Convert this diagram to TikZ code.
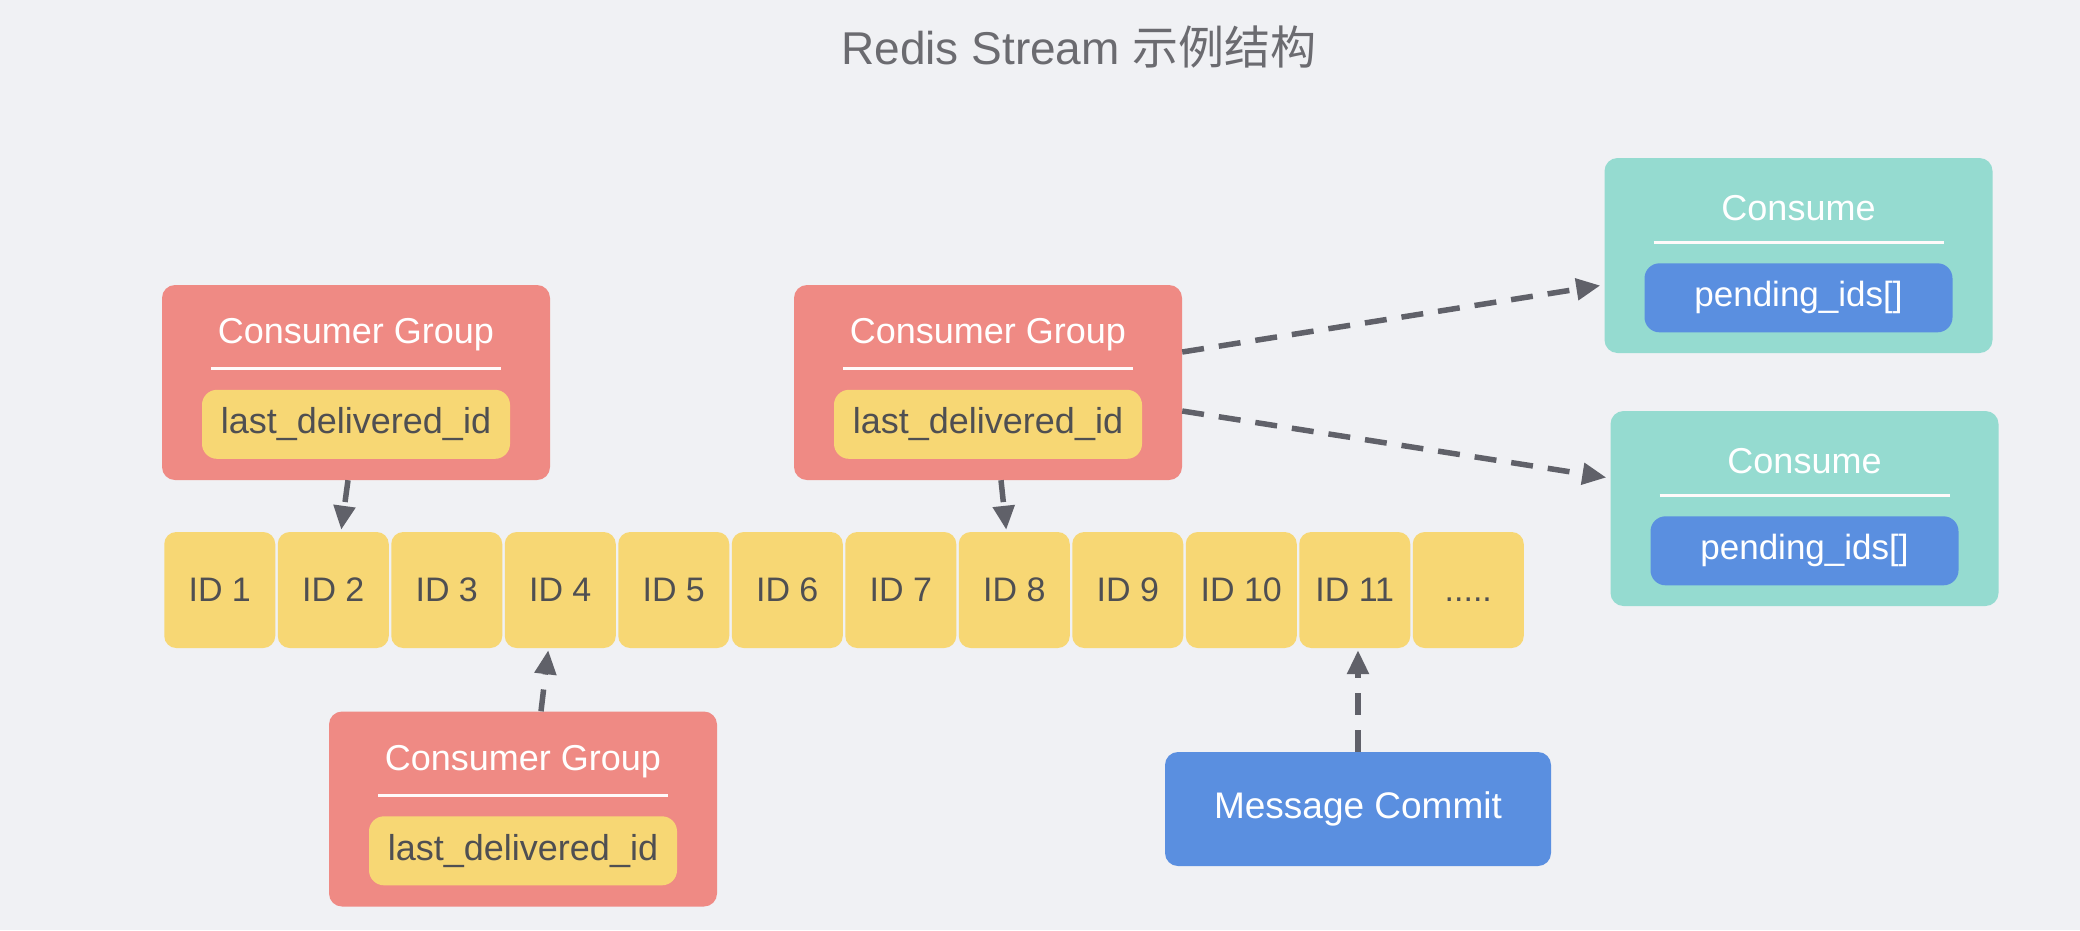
\documentclass[tikz,border=0pt]{standalone}
\usepackage{fontspec}
\setmainfont{Liberation Sans}
\newfontfamily\cjkfont{Noto Sans CJK SC}
\usetikzlibrary{arrows.meta}
\definecolor{bgc}{HTML}{F0F1F4}
\definecolor{redc}{HTML}{EF8A84}
\definecolor{yelc}{HTML}{F7D774}
\definecolor{tealc}{HTML}{95DBD0}
\definecolor{bluec}{HTML}{5A8FE0}
\definecolor{arrc}{HTML}{606169}
\definecolor{txtc}{HTML}{4F4F52}
\definecolor{titc}{HTML}{6B6B70}
\tikzset{
  bigbox/.style={minimum width=388pt, minimum height=195pt, rounded corners=13pt, inner sep=0pt},
  cgbox/.style={bigbox, fill=redc},
  cobox/.style={bigbox, fill=tealc},
  boxtitle/.style={text=white, font=\fontsize{36}{43}\selectfont, inner sep=0pt},
  sepline/.style={draw=white!92!pink, line width=3pt},
  ldid/.style={fill=yelc, text=txtc, minimum width=308pt, minimum height=69pt, rounded corners=15pt, inner sep=0pt, font=\fontsize{36}{43}\selectfont},
  pend/.style={fill=bluec, text=white, minimum width=308pt, minimum height=69pt, rounded corners=15pt, inner sep=0pt, font=\fontsize{35}{42}\selectfont},
  idcell/.style={fill=yelc, text=txtc, minimum width=111pt, minimum height=116pt, rounded corners=12pt, inner sep=0pt, font=\fontsize{34}{40}\selectfont},
  commitbox/.style={fill=bluec, text=white, minimum width=386pt, minimum height=114pt, rounded corners=13pt, inner sep=0pt, font=\fontsize{37}{44}\selectfont},
  dasharrow/.style={draw=arrc, line width=5.5pt, dash pattern=on 22pt off 15pt, -{Triangle[length=24pt,width=21pt]}}
}
\begin{document}
\begin{tikzpicture}[x=1pt,y=-1pt]
\useasboundingbox (0,0) rectangle (2080,930);
\fill[bgc] (0,0) rectangle (2080,930);

\node[anchor=base, text=titc, font=\fontsize{46}{54}\selectfont, inner sep=0pt] (title) at (1079,64) {Redis Stream {\cjkfont 示例结构}};

% ID row
\foreach \i in {1,...,11}{
  \node[idcell] (id\i) at ({163+113.5*(\i-0.5)},590) {ID \i};
}
\node[idcell] (id12) at ({163+113.5*11.5},590) {\vphantom{ID}.{}.{}.{}.{}.};

% Consumer groups
\node[cgbox] (cg1) at (356,382.5) {};
\node[cgbox] (cg2) at (988,382.5) {};
\node[cgbox] (cg3) at (523,809) {};
\foreach \b in {cg1,cg2,cg3}{
  \node[boxtitle] (\b t) at ([yshift=-50pt]\b.north) {Consumer Group};
  \draw[sepline] ([xshift=-145pt,yshift=-84pt]\b.north) -- ([xshift=145pt,yshift=-84pt]\b.north);
  \node[ldid] (\b i) at ([yshift=-139.5pt]\b.north) {last\_delivered\_id};
}

% Consumers
\node[cobox] (c1) at (1798.5,255.5) {};
\node[cobox] (c2) at (1804.5,508.5) {};
\foreach \b in {c1,c2}{
  \node[boxtitle] (\b t) at ([yshift=-50pt]\b.north) {Consume};
  \draw[sepline] ([xshift=-145pt,yshift=-85pt]\b.north) -- ([xshift=145pt,yshift=-85pt]\b.north);
  \node[pend] (\b i) at ([yshift=-140pt]\b.north) {pending\_ids[]};
}

% Message commit
\node[commitbox] (mc) at (1358,809) {Message Commit};

% Arrows
\draw[dasharrow] ([xshift=-8pt]cg1.south) -- ([xshift=8pt,yshift=2pt]id2.north);
\draw[dasharrow] ([xshift=13pt]cg2.south) -- ([xshift=-8pt,yshift=2pt]id8.north);
\draw[dasharrow] ([xshift=18pt]cg3.north) -- ([xshift=-12pt,yshift=-2pt]id4.south);
\draw[dasharrow] (mc.north) -- ([yshift=-2pt]mc.north |- id11.south);
\draw[dasharrow] ([yshift=30.5pt]cg2.east) -- ([xshift=-4pt,yshift=-30pt]c1.west);
\draw[dasharrow] ([yshift=-28.5pt]cg2.east) -- ([xshift=-4pt,yshift=31pt]c2.west);
\end{tikzpicture}
\end{document}
